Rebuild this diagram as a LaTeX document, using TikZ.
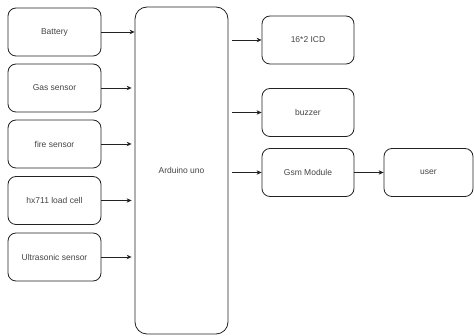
\documentclass[tikz,border=0pt]{standalone}
\usepackage{fontspec}
\setmainfont{Liberation Sans}
\usetikzlibrary{arrows.meta}
\definecolor{txt}{HTML}{444444}
\definecolor{ln}{HTML}{222222}
\begin{document}
\begin{tikzpicture}[x=1pt,y=-1pt,
  blk/.style={draw=ln,line width=0.8pt,rounded corners=8pt,minimum width=93pt,minimum height=48pt,inner sep=0pt,text=txt,font=\fontsize{8.5}{10}\selectfont},
  conn/.style={draw=ln,line width=0.7pt,-{Stealth[length=5pt,width=4.5pt]}}]
\useasboundingbox (0,0) rectangle (474,336);
\node[blk] (bat) at (54.5,32) {Battery};
\node[blk] (gas) at (54.5,88) {Gas sensor};
\node[blk] (fire) at (54.5,144) {fire sensor};
\node[blk] (hx) at (54.5,200.5) {hx711 load cell};
\node[blk] (us) at (54.5,257) {Ultrasonic sensor};
\node[blk,minimum height=327pt,rounded corners=12pt] (ard) at (181.5,170.5) {Arduino uno};
\node[blk,minimum width=92pt] (lcd) at (308,40) {16*2 ICD};
\node[blk,minimum width=92pt] (buz) at (308,112.5) {buzzer};
\node[blk,minimum width=92pt] (gsm) at (308,172.5) {Gsm Module};
\node[blk,minimum width=89pt] (user) at (428.5,172.5) {user};
\draw[conn] (bat.east) -- (bat.east -| ard.west);
\draw[conn,shorten >=3pt] (gas.east) -- (gas.east -| ard.west);
\draw[conn,shorten >=3pt] (fire.east) -- (fire.east -| ard.west);
\draw[conn,shorten >=3pt] (hx.east) -- (hx.east -| ard.west);
\draw[conn,shorten >=3pt] (us.east) -- (us.east -| ard.west);
\draw[conn,shorten <=4pt] (lcd.west -| ard.east) -- (lcd.west);
\draw[conn,shorten <=4pt] (buz.west -| ard.east) -- (buz.west);
\draw[conn,shorten <=4pt] (gsm.west -| ard.east) -- (gsm.west);
\draw[conn] (gsm.east) -- (user.west);
\end{tikzpicture}
\end{document}
